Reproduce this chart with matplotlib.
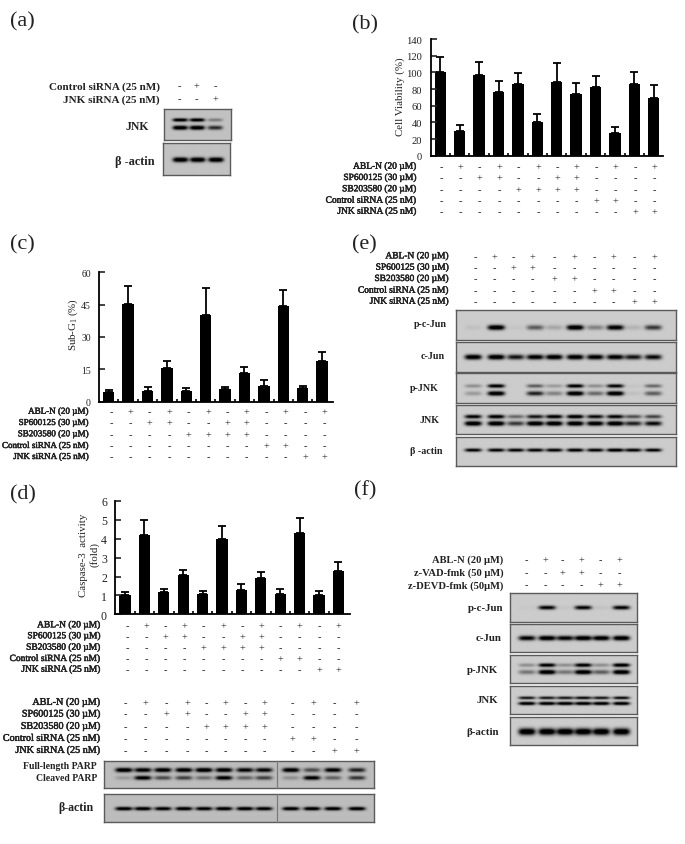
import numpy as np
import matplotlib
matplotlib.use('Agg')
import matplotlib.pyplot as plt
import matplotlib.patheffects as pe

W, H = 685, 845
plt.rcParams['font.family'] = ['Liberation Serif', 'DejaVu Sans']
plt.rcParams['mathtext.default'] = 'regular'
INK = '#222222'

# bar chart values
viability = [100, 30, 97, 77, 86, 40, 89, 74, 83, 27, 86, 69]
viability_top = [118, 37, 112, 90, 99, 50, 111, 87, 96, 35, 100, 85]
subg1 = [4.5, 45.5, 5, 15.5, 5, 40, 6, 13.5, 7.5, 44.5, 6.5, 19]
subg1_top = [5.3, 53.5, 7, 19, 6.5, 52.5, 7, 16.3, 10, 52, 7.5, 23]
caspase = [1, 4.2, 1.2, 2.1, 1.1, 4, 1.3, 1.9, 1.1, 4.3, 1, 2.3]
caspase_top = [1.2, 5, 1.35, 2.35, 1.25, 4.7, 1.6, 2.25, 1.35, 5.1, 1.25, 2.75]

# treatment tables
names12 = ['ABL-N (20 µM)', 'SP600125 (30 µM)', 'SB203580 (20 µM)', 'Control siRNA (25 nM)', 'JNK siRNA (25 nM)']
signs12 = ['-+-+-+-+-+-+', '--++--++----', '----++++----', '--------++--', '----------++']
names10 = names12
signs10 = ['-+-+-+-+-+', '--++------', '----++----', '------++--', '--------++']
names_a = ['Control siRNA (25 nM)', 'JNK siRNA (25 nM)']
signs_a = ['-+-', '--+']
names_f = ['ABL-N (20 µM)', 'z-VAD-fmk (50 µM)', 'z-DEVD-fmk (50µM)']
signs_f = ['-+-+-+', '--++--', '----++']

# blot band darkness per lane: (height in blot, half thickness px, lanes)
a_jnk = [(0.35, 1.7, [.95, .95, .3]), (0.6, 2.1, [1, 1, .65])]
a_actin = [(0.52, 2.4, [1, 1, 1])]
e_pjun = [(0.58, 2.5, [.05, .98, .03, .45, .15, .98, .3, .9, .1, .6])]
e_jun = [(0.5, 2.5, [.95, .98, .75, .9, .95, .95, .9, .9, .75, .8])]
e_pjnk = [(0.43, 1.8, [.25, .9, 0, .45, .2, .9, .25, .85, .03, .4]),
          (0.68, 2.2, [.2, 1, 0, .7, .3, 1, .4, 1, .05, .45])]
e_jnk = [(0.42, 1.9, [.85, .9, .4, .75, .9, .95, .8, .85, .5, .55]),
         (0.65, 2.3, [1, 1, .6, 1, 1, 1, .95, 1, .7, .8])]
e_actin = [(0.47, 1.7, [.85, .85, .85, .85, .85, .9, .85, .95, .85, .85])]
f_pjun = [(0.5, 2.0, [.02, .85, .03, .85, .04, .85])]
f_jun = [(0.5, 2.4, [.85, .98, .85, .98, .95, .98])]
f_pjnk = [(0.38, 1.8, [.25, .9, .25, .9, .25, .95]), (0.62, 2.2, [.35, 1, .35, 1, .45, 1])]
f_jnk = [(0.42, 1.5, [.75, .75, .75, .8, .75, .8]), (0.62, 1.7, [.95, .95, .95, .95, .95, .95])]
f_actin = [(0.52, 3.4, [1, 1, 1, 1, 1, 1])]
d_parp = [(0.33, 2.2, [1, .9, .95, .95, 1, .95, .85, .85, .95, .5, .9, .7]),
          (0.62, 2.1, [.15, .9, .5, .55, .35, .9, .4, .55, .2, .9, .4, .6])]
d_actin = [(0.52, 1.8, [.95, .95, .9, .95, .9, .95, .95, .9, .95, .95, .95, .95])]


def px_axes(x0, y0, x1, y1):
    return fig.add_axes([x0 / W, 1 - y1 / H, (x1 - x0) / W, (y1 - y0) / H])


def blot(x0, y0, x1, y1, lanes, bands, hw=8.0, bg=0.78):
    ax = px_axes(x0, y0, x1, y1)
    xs = np.arange(x0, x1, 0.5)
    ys = np.arange(0, y1 - y0, 0.25)
    xx, yy = np.meshgrid(xs, ys)
    dark = np.zeros_like(xx)
    for frac, hh, vals in bands:
        for lx, v in zip(lanes, vals):
            yc = frac * (y1 - y0)
            dark += v * np.exp(-((xx - lx) / hw) ** 4) * np.exp(-((yy - yc) / hh) ** 2)
    img = bg * (1 - np.clip(dark * 1.25, 0, 1))
    ax.imshow(img, cmap='gray', vmin=0, vmax=1, aspect='auto', extent=[x0, x1, y1 - y0, 0])
    ax.set_xticks([])
    ax.set_yticks([])
    for s in ax.spines.values():
        s.set_color('#5a5a5a')
        s.set_linewidth(1.0)
    return ax


def table(rows, names, signs, columns, right, size=6.8, bold=False):
    for y, name, row in zip(rows, names, signs):
        t = page.text(right, y, name, ha='right', va='center', fontsize=size,
                      fontweight='bold' if bold else 'normal', color=INK)
        if not bold:
            t.set_path_effects([pe.withStroke(linewidth=0.35, foreground=INK)])
        for cx, s in zip(columns, row):
            page.text(cx, y, s, ha='center', va='center', fontsize=7.5, color=INK)


def barpanel(left, top, right, bottom, first, values, tops, ymax, yticks, tick_size):
    ax = px_axes(left, top, right, bottom)
    step = 19.4
    x = np.arange(12)
    ax.bar(x, values, width=11.3 / step, color='black')
    err = np.array(tops) - np.array(values)
    ax.errorbar(x, values, yerr=[np.zeros(12), err], fmt='none', ecolor='black',
                elinewidth=1.3, capsize=2.8, capthick=1.3)
    ax.set_xlim((left - first) / step, (right - first) / step)
    ax.set_ylim(0, ymax)
    ax.set_yticks(yticks)
    ax.set_xticks(x[:-1] + 0.5)
    ax.set_xticklabels([])
    ax.tick_params(axis='y', direction='in', length=4, width=1.2, labelsize=tick_size,
                   pad=6, colors=INK)
    ax.tick_params(axis='x', direction='in', length=2, width=1.2)
    for s in ['top', 'right']:
        ax.spines[s].set_visible(False)
    for s in ['left', 'bottom']:
        ax.spines[s].set_linewidth(1.3)
    ax.patch.set_alpha(0)
    return ax


fig = plt.figure(figsize=(W / 100, H / 100), dpi=100)
page = fig.add_axes([0, 0, 1, 1])
page.set_xlim(0, W)
page.set_ylim(H, 0)
page.axis('off')
page.set_zorder(5)
page.patch.set_alpha(0)

for letter, x, y in [('(a)', 10, 22), ('(b)', 352, 25), ('(c)', 10, 245),
                     ('(d)', 10, 495), ('(e)', 352, 245), ('(f)', 354, 491)]:
    page.text(x, y, letter, fontsize=16, ha='left', va='center', color=INK)

# (a)
table([87, 100], names_a, signs_a, [179, 196, 215], 160, size=8.0, bold=True)
blot(164, 110, 231, 141, [180, 197, 215], a_jnk, hw=7.5, bg=0.76)
blot(163, 144, 230, 176, [180, 197, 215], a_actin, hw=7.5, bg=0.76)
page.text(137, 127, 'JNK', ha='center', va='center', fontsize=8.5, fontweight='bold', color=INK)
page.text(155, 162, 'β -actin', ha='right', va='center', fontsize=8.8, fontweight='bold', color=INK)

# (b)
barpanel(430.7, 40, 663, 156.7, 440.3, viability, viability_top, 140, range(0, 141, 20), 7.6)
page.text(400, 96.6, 'Cell Viability (%)', rotation=90, ha='center', va='center', fontsize=7.8, color=INK)
table([167.7, 179, 190.3, 201.7, 212.7], names12, signs12,
      [441 + 19.4 * i for i in range(12)], 417)

# (c)
barpanel(99.3, 273.3, 333, 402.7, 108.7, subg1, subg1_top, 60, range(0, 61, 15), 7.0)
page.text(73, 324, 'Sub-G$_1$ (%)', rotation=90, ha='center', va='center', fontsize=7.8, color=INK)
table([412.7, 424, 435.3, 447, 458], names12, signs12,
      [111 + 19.4 * i for i in range(12)], 88, size=6.5)

# (d)
barpanel(115.3, 502, 350, 615.3, 125, caspase, caspase_top, 6, range(0, 7), 8.5)
page.text(89, 555, 'Caspase-3  activity\n(fold)', rotation=90, ha='center', va='center',
          fontsize=7.8, color=INK, linespacing=1.25)
table([626.3, 637.3, 648.7, 660, 670.7], names12, signs12,
      [127 + 19.2 * i for i in range(12)], 101)

parp_cols = [125, 145, 166, 187, 206, 225, 245, 264, 292, 313, 334, 356]
table([703.3, 715, 727.3, 739.3, 751.3], names12, signs12, parp_cols, 100, size=7.3)
parp_lanes = [124, 143, 163, 184, 204, 224, 245, 264, 291, 312, 333, 357]
for (y0, y1, bands) in [(762.3, 789.3, d_parp), (795, 822.7, d_actin)]:
    blot(104.3, y0, 374, y1, parp_lanes, bands, hw=8.5, bg=0.74)
    page.plot([277, 277], [y0, y1], color='#7a7a7a', lw=0.9)
page.text(97, 767, 'Full-length PARP', ha='right', va='center', fontsize=7.0, fontweight='bold', color=INK)
page.text(97, 779, 'Cleaved PARP', ha='right', va='center', fontsize=7.0, fontweight='bold', color=INK)
page.text(94, 808, 'β-actin', ha='right', va='center', fontsize=8.6, fontweight='bold', color=INK)

# (e)
e_cols = [475, 494.3, 513.3, 532.7, 554, 574, 594, 613.3, 634, 654]
table([257.3, 268.7, 280, 291.7, 302.7], names10, signs10, e_cols, 449.3)
e_lanes = [473, 496, 515.5, 535, 554, 575, 595, 615, 633, 653]
e_boxes = [(311, 340.7, e_pjun, 'p-c-Jun', 447, 325), (343.3, 372.7, e_jun, 'c-Jun', 445, 357),
           (374.3, 403.7, e_pjnk, 'p-JNK', 439, 389), (406, 435.3, e_jnk, 'JNK', 440, 421),
           (438, 467.3, e_actin, 'β -actin', 443, 452)]
for y0, y1, bands, name, rx, ry in e_boxes:
    blot(456, y0, 675.7, y1, e_lanes, bands, hw=8.5, bg=0.8)
    page.text(rx, ry, name, ha='right', va='center', fontsize=7.2, fontweight='bold', color=INK)

# (f)
f_cols = [526, 545, 562.3, 581.7, 600.7, 619.3]
table([560.3, 573.3, 585.7], names_f, signs_f, f_cols, 503.7, size=7.6, bold=True)
f_lanes = [527, 547, 565, 583, 601, 621]
f_boxes = [(594, 622.7, f_pjun, 'p-c-Jun', 503.7, 609), (625.3, 653.3, f_jun, 'c-Jun', 502, 639),
           (656, 684, f_pjnk, 'p-JNK', 498, 671), (687, 715, f_jnk, 'JNK', 498, 701),
           (717.7, 745.7, f_actin, 'β-actin', 499, 733)]
for y0, y1, bands, name, rx, ry in f_boxes:
    blot(510.3, y0, 636.7, y1, f_lanes, bands, hw=8.5, bg=0.8)
    page.text(rx, ry, name, ha='right', va='center', fontsize=7.8, fontweight='bold', color=INK)

fig.savefig('out.png', dpi=100, facecolor='white')
